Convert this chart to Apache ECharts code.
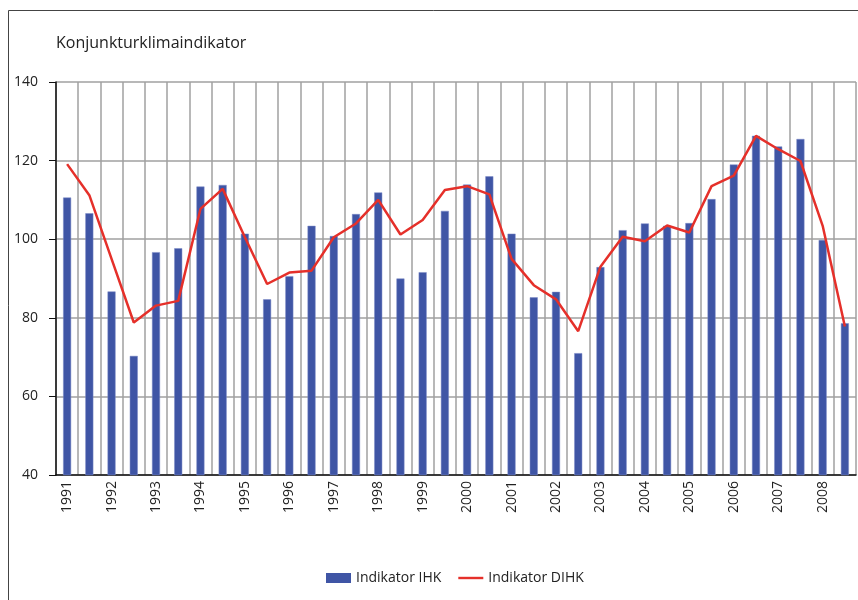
<!DOCTYPE html>
<html>
<head>
<meta charset="utf-8">
<script src="https://cdn.jsdelivr.net/npm/echarts@6/dist/echarts.min.js"></script>
<style>
  html, body { margin: 0; padding: 0; background: #fff; }
  #chart { width: 858px; height: 600px; }
</style>
</head>
<body>
<div id="chart"></div>
<script>
// half-year periods, label only on first half of each year
const years = ["1991", "1992", "1993", "1994", "1995", "1996", "1997", "1998", "1999",
  "2000", "2001", "2002", "2003", "2004", "2005", "2006", "2007", "2008"];
const periods = [];
years.forEach(function (y) { periods.push(y + " I", y + " II"); });

const ihk = [110.6, 106.6, 86.7, 70.3, 96.7, 97.7, 113.4, 113.8, 101.4, 84.7,
  90.6, 103.4, 100.8, 106.4, 111.9, 90.0, 91.6, 107.2, 113.9, 116.0,
  101.4, 85.2, 86.6, 71.0, 92.9, 102.3, 104.0, 103.4, 104.1, 110.2,
  119.0, 126.3, 123.6, 125.5, 99.8, 78.6];

const dihk = [119.1, 111.2, 95.0, 78.8, 83.1, 84.3, 107.7, 112.8, 100.5, 88.6,
  91.5, 92.0, 100.5, 104.0, 110.0, 101.2, 104.9, 112.5, 113.5, 111.4,
  95.0, 88.3, 84.7, 76.6, 93.0, 100.6, 99.5, 103.5, 101.7, 113.5,
  116.2, 126.3, 122.9, 119.9, 103.4, 77.8];

const yTicks = [40, 60, 80, 100, 120, 140];

const chart = echarts.init(document.getElementById("chart"));
const font = "'Open Sans', 'DejaVu Sans', sans-serif";

chart.setOption({
  animation: false,
  textStyle: { fontFamily: font },
  graphic: [{
    type: "rect",
    shape: { x: 8.5, y: 10.5, width: 900, height: 700 },
    style: { fill: "none", stroke: "#444", lineWidth: 1 },
    silent: true
  }],
  title: {
    text: "Konjunkturklimaindikator",
    left: 51,
    top: 30,
    textStyle: { fontSize: 16, fontWeight: "normal", color: "#222", fontFamily: font }
  },
  legend: {
    bottom: 15,
    left: 326,
    padding: 0,
    itemWidth: 25,
    itemHeight: 10,
    itemGap: 17,
    itemStyle: { borderWidth: 0 },
    textStyle: { fontSize: 14, color: "#222", fontFamily: font },
    data: [
      { name: "Indikator IHK", icon: "rect" },
      // thin line icon, extra move-to points keep the 25x10 box
      { name: "Indikator DIHK", icon: "path://M0,0 M25,10 M0,3.8 L25,3.8 L25,6.2 L0,6.2 Z" }
    ]
  },
  grid: { left: 56, right: 2, top: 82, bottom: 125 },
  xAxis: {
    type: "category",
    data: periods,
    boundaryGap: true,
    axisLine: { lineStyle: { color: "#111", width: 1.5 } },
    axisTick: { show: false },
    axisLabel: {
      interval: 1,
      rotate: 90,
      margin: 6,
      fontSize: 14,
      color: "#222",
      formatter: function (v) { return v.split(" ")[0]; }
    },
    splitLine: { show: true, interval: 0, lineStyle: { color: "#a0a0a0", width: 1.5 } }
  },
  yAxis: {
    type: "value",
    min: yTicks[0],
    max: yTicks[yTicks.length - 1],
    interval: 20,
    axisLine: { show: true, lineStyle: { color: "#111", width: 1.5 } },
    axisTick: { show: true, length: 7, lineStyle: { color: "#111" } },
    axisLabel: { fontSize: 14, color: "#222", margin: 18 },
    splitLine: { lineStyle: { color: "#a0a0a0", width: 1.5 } }
  },
  series: [
    {
      name: "Indikator IHK",
      type: "bar",
      data: ihk,
      barWidth: 8,
      itemStyle: { color: "#3F55A5", borderColor: "#7d8bc6", borderWidth: 0.5 }
    },
    {
      name: "Indikator DIHK",
      type: "line",
      data: dihk,
      symbol: "none",
      lineStyle: { color: "#E5302A", width: 2.5 },
      itemStyle: { color: "#E5302A" }
    }
  ]
});
</script>
</body>
</html>
